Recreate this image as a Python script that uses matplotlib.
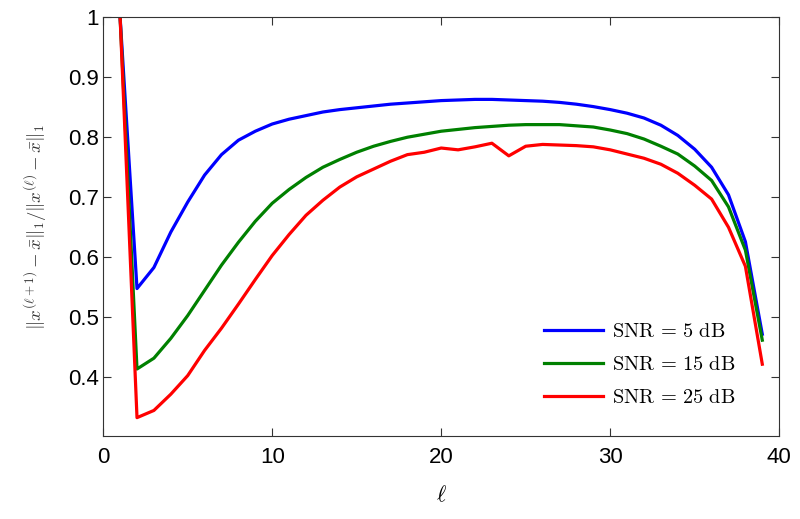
import matplotlib
matplotlib.use("Agg")
import matplotlib.pyplot as plt

ell = list(range(1, 40))
snr5 = [1.0, 0.548, 0.583, 0.642, 0.692, 0.737, 0.771, 0.795, 0.810, 0.822,
        0.830, 0.836, 0.842, 0.846, 0.849, 0.852, 0.855, 0.857, 0.859, 0.861,
        0.862, 0.863, 0.863, 0.862, 0.861, 0.860, 0.858, 0.855, 0.851, 0.846,
        0.840, 0.832, 0.820, 0.803, 0.780, 0.750, 0.704, 0.626, 0.472]
snr15 = [1.0, 0.414, 0.432, 0.465, 0.503, 0.545, 0.587, 0.625, 0.660, 0.690,
         0.713, 0.733, 0.750, 0.763, 0.775, 0.785, 0.793, 0.800, 0.805, 0.810,
         0.813, 0.816, 0.818, 0.820, 0.821, 0.821, 0.821, 0.819, 0.817, 0.812,
         0.806, 0.797, 0.785, 0.772, 0.752, 0.728, 0.684, 0.612, 0.462]
snr25 = [1.0, 0.333, 0.345, 0.372, 0.403, 0.445, 0.482, 0.522, 0.563, 0.603,
         0.638, 0.670, 0.695, 0.717, 0.734, 0.747, 0.760, 0.771, 0.775, 0.782,
         0.779, 0.784, 0.790, 0.769, 0.785, 0.788, 0.787, 0.786, 0.784, 0.779,
         0.772, 0.765, 0.755, 0.740, 0.720, 0.697, 0.650, 0.585, 0.422]
labels = [r"$\mathrm{SNR}\,=\,5\ \mathrm{dB}$",
          r"$\mathrm{SNR}\,=\,15\ \mathrm{dB}$",
          r"$\mathrm{SNR}\,=\,25\ \mathrm{dB}$"]
colors = ["#0000ff", "#008000", "#ff0000"]

plt.rcParams["mathtext.fontset"] = "cm"
plt.rcParams["font.family"] = ["Liberation Sans", "DejaVu Sans"]

fig = plt.figure(figsize=(8, 5.19), dpi=100)
ax = fig.add_axes([0.129, 0.160, 0.845, 0.807])
for ys, lab, c in zip([snr5, snr15, snr25], labels, colors):
    ax.plot(ell, ys, color=c, lw=2.3, label=lab)

ax.set_xlim(0, 40)
ax.set_ylim(0.3025, 1.0)
ax.set_xticks([0, 10, 20, 30, 40])
ax.set_yticks([0.4, 0.5, 0.6, 0.7, 0.8, 0.9, 1.0])
ax.set_yticklabels(["0.4", "0.5", "0.6", "0.7", "0.8", "0.9", "1"])
ax.tick_params(direction="in", top=True, right=True, labelsize=16, length=6,
               width=0.8, colors="#333333", labelcolor="black")
ax.tick_params(axis="x", pad=8)
ax.tick_params(axis="y", pad=3)
for s in ax.spines.values():
    s.set_color("#333333")
    s.set_linewidth(0.8)

ax.set_xlabel(r"$\ell$", fontsize=16, labelpad=12)
ax.set_ylabel(r"$\|x^{(\ell+1)}-\bar{x}\|_1/\|x^{(\ell)}-\bar{x}\|_1$",
              fontsize=13.5, labelpad=14, color="#333333")

ax.legend(loc="lower right", frameon=False, fontsize=14.7, handlelength=2.9,
          handletextpad=0.43, labelspacing=0.67, bbox_to_anchor=(0.962, 0.026))

fig.savefig("out.png", dpi=100)
